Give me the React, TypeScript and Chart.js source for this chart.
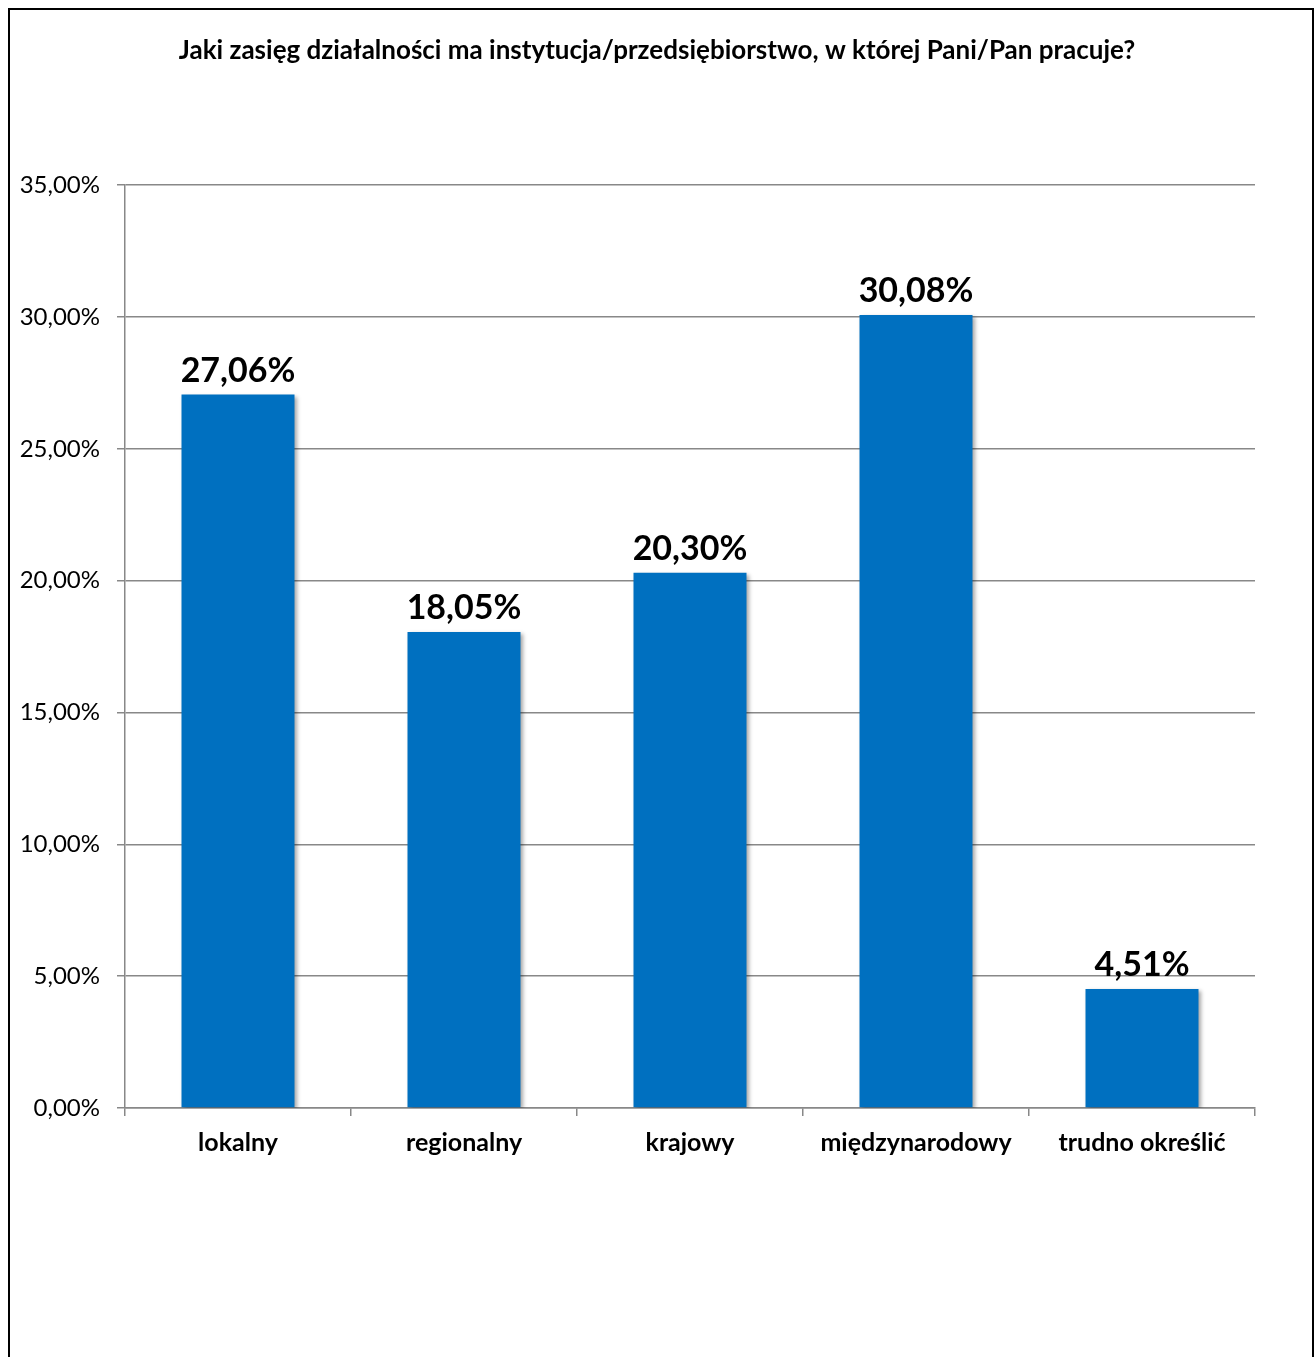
import React, { useEffect, useRef } from "react";
import { Chart, registerables } from "chart.js";

Chart.register(...registerables);

const title = "Jaki zasięg działalności ma instytucja/przedsiębiorstwo, w której Pani/Pan pracuje?";
const categories = ["lokalny", "regionalny", "krajowy", "międzynarodowy", "trudno określić"];
const values = [27.06, 18.05, 20.3, 30.08, 4.51];
const yMin = 0;
const yMax = 35;
const yStep = 5;

const fmt = (v: number) => v.toFixed(2).replace(".", ",") + "%";
const FONT = "Lato, 'Open Sans', sans-serif";

const dataLabels = {
  id: "dataLabels",
  afterDatasetsDraw(chart: any) {
    const ctx = chart.ctx;
    const meta = chart.getDatasetMeta(0);
    ctx.save();
    ctx.font = `bold 34px ${FONT}`;
    ctx.fillStyle = "#000000";
    ctx.textAlign = "center";
    ctx.textBaseline = "alphabetic";
    meta.data.forEach((bar: any, i: number) => {
      ctx.fillText(fmt(values[i]), bar.x, bar.y - 13);
    });
    ctx.restore();
  },
};

const barShadow = {
  id: "barShadow",
  beforeDatasetsDraw(chart: any) {
    const ctx = chart.ctx;
    ctx.save();
    ctx.shadowColor = "rgba(0,0,0,0.35)";
    ctx.shadowBlur = 4;
    ctx.shadowOffsetX = 2;
    ctx.shadowOffsetY = 2;
  },
  afterDatasetsDraw(chart: any) {
    chart.ctx.restore();
  },
};

export default function App() {
  const ref = useRef<HTMLCanvasElement>(null);
  useEffect(() => {
    if (!ref.current) return;
    const chart = new Chart(ref.current, {
      type: "bar",
      data: {
        labels: categories,
        datasets: [
          {
            data: values,
            backgroundColor: "#0070C0",
            borderWidth: 0,
            barPercentage: 0.5,
            categoryPercentage: 1,
            yAxisID: "y",
          },
        ],
      },
      options: {
        animation: false,
        responsive: false,
        maintainAspectRatio: false,
        layout: { padding: { left: 0, right: 8, top: 0, bottom: 202 } },
        plugins: {
          legend: { display: false },
          tooltip: { enabled: false },
          title: {
            display: true,
            text: title,
            color: "#000000",
            font: { family: FONT, size: 26, weight: "bold" },
            padding: { top: 25, bottom: 119 },
          },
        },
        scales: {
          x: {
            grid: {
              display: true,
              drawOnChartArea: false,
              drawTicks: true,
              tickLength: 8,
              color: "#888888",
              lineWidth: 1.5,
              offset: true,
            },
            border: { display: true, color: "#888888", width: 1.5 },
            ticks: {
              color: "#000000",
              font: { family: FONT, size: 25, weight: "bold" },
              padding: 12,
              maxRotation: 0,
            },
            afterFit(scale: any) {
              scale.height = 60;
            },
          },
          y: {
            min: yMin,
            max: yMax,
            ticks: {
              stepSize: yStep,
              color: "#000000",
              font: { family: FONT, size: 24 },
              padding: 17,
              callback: (v: any) => fmt(Number(v)),
            },
            grid: {
              color: "#888888",
              lineWidth: 1.5,
              drawTicks: true,
              tickLength: 8,
            },
            border: { display: true, color: "#888888", width: 1.5 },
            afterFit(scale: any) {
              scale.width = 115;
            },
          },
          ySpacer: {
            position: "right",
            min: yMin,
            max: yMax,
            grid: { display: false, drawTicks: false },
            border: { display: false },
            ticks: { display: false },
            afterFit(scale: any) {
              scale.width = 49;
            },
          },
        },
      },
      plugins: [barShadow, dataLabels],
    });
    return () => chart.destroy();
  }, []);

  return (
    <>
      <style>{"html,body{margin:0;padding:0;overflow:hidden;background:#fff;}"}</style>
      <div
        style={{
          position: "absolute",
          left: 8,
          top: 8,
          width: 1302,
          height: 1400,
          border: "2px solid #000",
          overflow: "hidden",
          background: "#fff",
        }}
      >
        <canvas ref={ref} width={1302} height={1360} style={{ display: "block" }} />
      </div>
    </>
  );
}
